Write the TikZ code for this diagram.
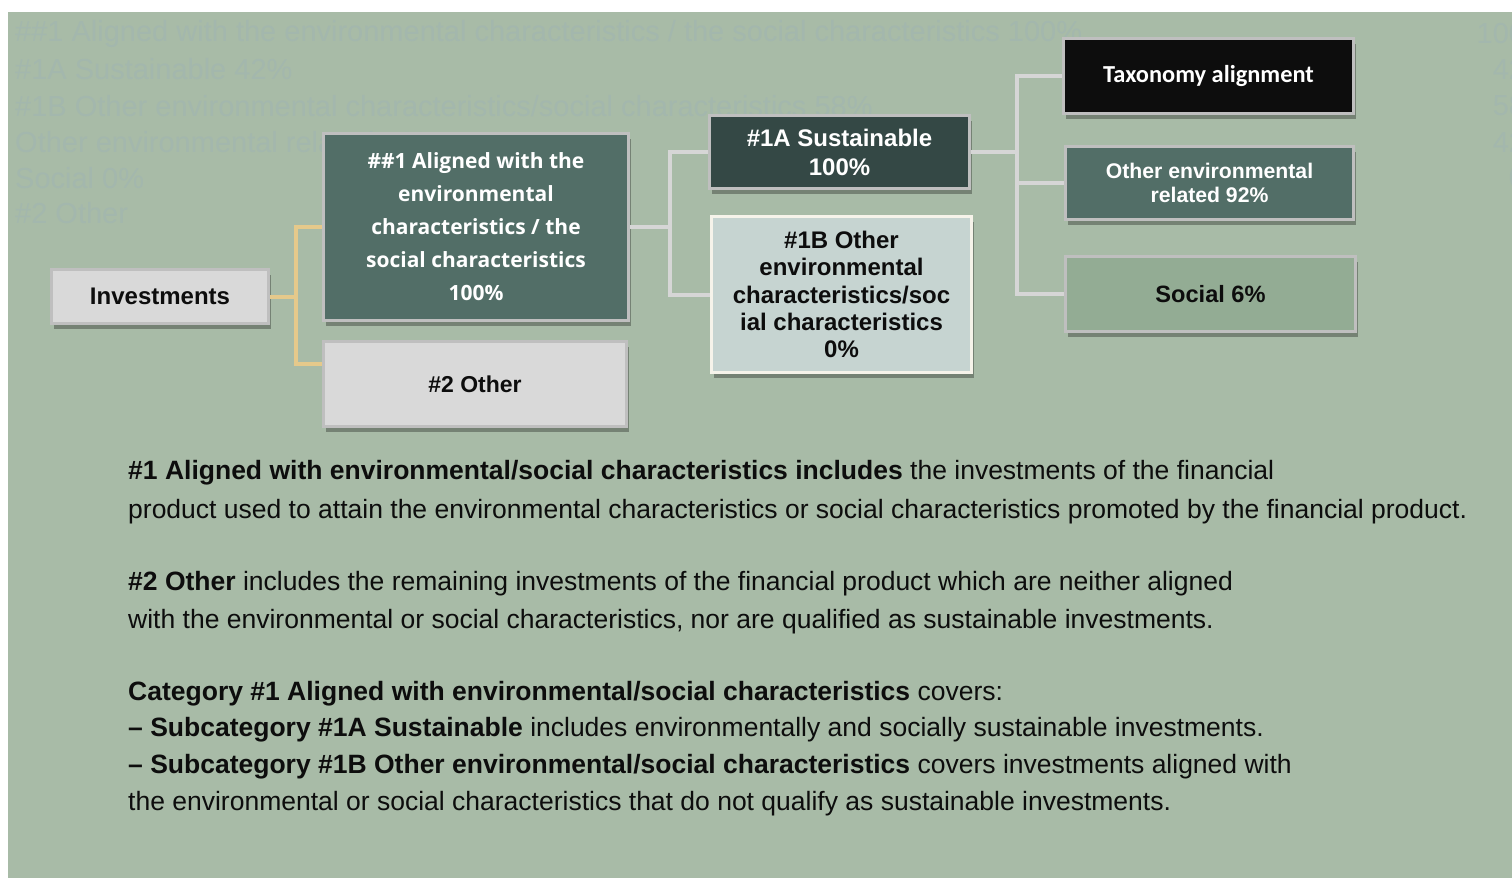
\documentclass[tikz,border=0pt]{standalone}
\usepackage{fontspec}
\setmainfont{Liberation Sans}
\newfontfamily\boxfont{Open Sans}
\newfontfamily\calfont{Carlito}
\usetikzlibrary{shadows}
\definecolor{sage}{HTML}{A8BBA7}
\definecolor{ghosttext}{HTML}{A3B7AD}
\definecolor{teal}{HTML}{526E67}
\definecolor{darkteal}{HTML}{344845}
\definecolor{lgray}{HTML}{D9D9D9}
\definecolor{paleblue}{HTML}{C6D4D1}
\definecolor{cream}{HTML}{F6F3EA}
\definecolor{nearblack}{HTML}{0D0D0D}
\definecolor{midgreen}{HTML}{93AC94}
\definecolor{boxgray}{HTML}{BFBFBF}
\definecolor{tanline}{HTML}{E5C98B}
\definecolor{linegray}{HTML}{D6D6D6}

\begin{document}
\begin{tikzpicture}[x=1pt, y=-1pt,
    box/.style={draw=boxgray, line width=3pt, align=center, inner sep=0pt,
      drop shadow={shadow xshift=2pt, shadow yshift=-5pt, opacity=0.3, fill=black}},
    yline/.style={draw=tanline, line width=4pt},
    gline/.style={draw=linegray, line width=4pt},
    ghost/.style={text=ghosttext, inner sep=0pt, font=\fontsize{29}{32}\selectfont},
    body/.style={anchor=base west, inner sep=0pt, text=nearblack, font=\fontsize{26.5}{38}\selectfont}]
  \clip (0,0) rectangle (1512,878);
  \fill[white] (0,0) rectangle (1512,878);
  \fill[sage] (8,12) rectangle (1512,878);

  % faint text behind the chart
  \node[ghost, anchor=west] (g1) at (15,34) {\#\#1 Aligned with the environmental characteristics / the social characteristics 100\%};
  \node[ghost, anchor=west] (g2) at (15,69) {\#1A Sustainable 42\%};
  \node[ghost, anchor=west] (g3) at (15,106) {\#1B Other environmental characteristics/social characteristics 58\%};
  \node[ghost, anchor=west] (g4) at (15,142) {Other environmental related 42\%};
  \node[ghost, anchor=west] (g5) at (15,178) {Social 0\%};
  \node[ghost, anchor=west] (g6) at (15,213) {\#2 Other};
  \node[ghost, anchor=east] (v1) at (1551,34) {100\%};
  \node[ghost, anchor=east] (v2) at (1551,69) {42\%};
  \node[ghost, anchor=east] (v3) at (1551,106) {58\%};
  \node[ghost, anchor=east] (v4) at (1551,142) {42\%};
  \node[ghost, anchor=east] (v5) at (1551,178) {0\%};

  % junctions
  \coordinate (yj) at (296,296.5);
  \coordinate (gj) at (670,227);
  \coordinate (rj) at (1017,152);

  % boxes
  \node[box, fill=lgray, minimum width=217pt, minimum height=54pt, text=nearblack,
    font=\fontsize{24}{27}\selectfont\bfseries] (inv) at (160,296.5) {Investments};
  \node[box, fill=teal, minimum width=305pt, minimum height=187pt, text=white,
    font=\boxfont\fontsize{21}{33}\selectfont\bfseries] (al) at (476,227)
    {\#\#1 Aligned with the\\environmental\\characteristics / the\\social characteristics\\100\%};
  \node[box, fill=lgray, minimum width=303pt, minimum height=85pt, text=nearblack,
    font=\fontsize{23}{26}\selectfont\bfseries] (oth) at (475,384) {\#2 Other};
  \node[box, fill=darkteal, minimum width=260pt, minimum height=73pt, text=white,
    font=\fontsize{24}{29}\selectfont\bfseries] (sus) at (839.5,152) {\#1A Sustainable\\100\%};
  \node[box, draw=cream, fill=paleblue, minimum width=260pt, minimum height=156pt, text=nearblack,
    font=\fontsize{24}{27.3}\selectfont\bfseries] (ob) at (841.5,294.5)
    {\#1B Other\\environmental\\characteristics/soc\\ial characteristics\\0\%};
  \node[box, fill=nearblack, minimum width=290pt, minimum height=75pt, text=white,
    font=\calfont\fontsize{24.4}{27}\selectfont\bfseries] (tax) at (1208.5,76) {Taxonomy alignment};
  \node[box, fill=teal, minimum width=288pt, minimum height=73pt, text=white,
    font=\fontsize{21.2}{24}\selectfont\bfseries] (env) at (1209.5,183) {Other environmental\\related 92\%};
  \node[box, fill=midgreen, minimum width=290pt, minimum height=75pt, text=nearblack,
    font=\fontsize{23.6}{26}\selectfont\bfseries] (soc) at (1210.5,294) {Social 6\%};

  % connectors
  \draw[yline] (inv.east) -- (yj);
  \draw[yline] (al.west) -| (yj);
  \draw[yline] ([yshift=20pt]oth.west) -| (yj);
  \draw[gline] (al.east) -- (gj);
  \draw[gline] (sus.west) -| (gj);
  \draw[gline] (ob.west) -| (gj);
  \draw[gline] (sus.east) -- (rj);
  \draw[gline] (tax.west) -| (rj);
  \draw[gline] (env.west) -| (rj);
  \draw[gline] (soc.west) -| (rj);

  % explanation
  \node[body] (t1) at (128,479) {\textbf{\#1 Aligned with environmental/social characteristics includes} the investments of the financial};
  \node[body] (t2) at (128,518) {product used to attain the environmental characteristics or social characteristics promoted by the financial product.};
  \node[body] (t3) at (128,590) {\textbf{\#2 Other} includes the remaining investments of the financial product which are neither aligned};
  \node[body] (t4) at (128,628) {with the environmental or social characteristics, nor are qualified as sustainable investments.};
  \node[body] (t5) at (128,700) {\textbf{Category \#1 Aligned with environmental/social characteristics} covers:};
  \node[body] (t6) at (128,736) {\textbf{– Subcategory \#1A Sustainable} includes environmentally and socially sustainable investments.};
  \node[body] (t7) at (128,773) {\textbf{– Subcategory \#1B Other environmental/social characteristics} covers investments aligned with};
  \node[body] (t8) at (128,810) {the environmental or social characteristics that do not qualify as sustainable investments.};
\end{tikzpicture}
\end{document}
